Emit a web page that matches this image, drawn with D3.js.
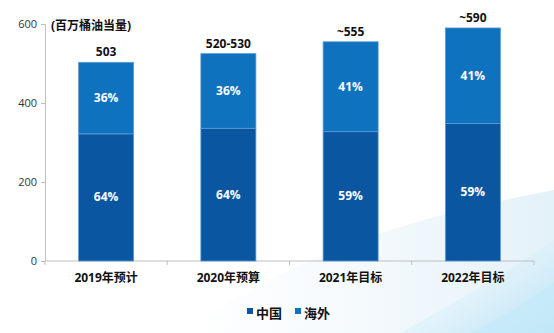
<!DOCTYPE html>
<html>
<head>
<meta charset="utf-8">
<script src="https://cdn.jsdelivr.net/npm/d3@7/dist/d3.min.js"></script>
<style>
  html, body { margin: 0; padding: 0; background: #fff; }
  svg { display: block; }
  text { font-family: "Open Sans", "Noto Sans CJK SC", sans-serif; }
</style>
</head>
<body>
<svg id="chart" width="554" height="333"></svg>
<script>
// Production by region, million barrels of oil equivalent
const categories = ["2019年预计", "2020年预算", "2021年目标", "2022年目标"];
const totals = [503, 525, 555, 590];
const totalLabels = ["503", "520-530", "~555", "~590"];
const chinaShare = [64, 64, 59, 59];
const overseasShare = [36, 36, 41, 41];
const yTicks = [0, 200, 400, 600];
const seriesNames = ["中国", "海外"];
const unitLabel = "(百万桶油当量)";

const colors = { china: "#0B56A0", overseas: "#0E72BF" };

const svg = d3.select("#chart");
const W = 554, H = 333;
const m = { left: 45, right: 20, top: 24, bottom: 72 };

// soft background swoosh in the lower right
const defs = svg.append("defs");
const g1 = defs.append("linearGradient").attr("id", "sw1")
  .attr("x1", "0").attr("y1", "0").attr("x2", "1").attr("y2", "1");
g1.append("stop").attr("offset", "0").attr("stop-color", "#ffffff").attr("stop-opacity", 0);
g1.append("stop").attr("offset", "1").attr("stop-color", "#aee0f5").attr("stop-opacity", 0.9);
const g2 = defs.append("linearGradient").attr("id", "sw2")
  .attr("x1", "0").attr("y1", "0").attr("x2", "1").attr("y2", "0");
g2.append("stop").attr("offset", "0").attr("stop-color", "#eef6fb").attr("stop-opacity", 0);
g2.append("stop").attr("offset", "1").attr("stop-color", "#e3f1f9").attr("stop-opacity", 1);

svg.append("rect").attr("width", W).attr("height", H).attr("fill", "#fff");
svg.append("path")
  .attr("d", "M180,333 C300,250 420,215 554,190 L554,333 Z")
  .attr("fill", "url(#sw2)");
svg.append("path")
  .attr("d", "M400,333 C460,300 510,270 554,240 L554,333 Z")
  .attr("fill", "url(#sw1)");
svg.append("path")
  .attr("d", "M470,333 C500,318 530,300 554,282 L554,333 Z")
  .attr("fill", "#c6e9f8").attr("opacity", 0.7);

const x = d3.scaleBand().domain(categories)
  .range([m.left, W - m.right]).paddingInner(0.55).paddingOuter(0.275);
const y = d3.scaleLinear().domain([0, 600]).range([H - m.bottom, m.top]);

// y axis
const yAxis = svg.append("g").attr("transform", `translate(${m.left},0)`)
  .call(d3.axisLeft(y).tickValues(yTicks).tickSize(4).tickPadding(4));
yAxis.select(".domain").attr("stroke", "#bfbfbf");
yAxis.selectAll(".tick line").attr("stroke", "#bfbfbf");
yAxis.selectAll(".tick text").attr("fill", "#333").style("font-size", "11px");

// x axis with ticks at category boundaries
const xb = d3.scaleLinear().domain([0, categories.length]).range([m.left, W - m.right]);
const xAxis = svg.append("g").attr("transform", `translate(0,${y(0)})`);
xAxis.append("line").attr("x1", m.left).attr("x2", W - m.right)
  .attr("stroke", "#bfbfbf");
xAxis.selectAll("line.tk").data(d3.range(categories.length + 1)).join("line")
  .attr("class", "tk").attr("x1", d => xb(d)).attr("x2", d => xb(d))
  .attr("y1", 0).attr("y2", 4).attr("stroke", "#bfbfbf");
xAxis.selectAll("text").data(categories).join("text")
  .attr("x", d => x(d) + x.bandwidth() / 2).attr("y", 21)
  .attr("text-anchor", "middle").attr("fill", "#111")
  .style("font-size", "12px").style("font-weight", "bold").text(d => d);

// stacked bars
const rows = categories.map((c, i) => {
  const china = totals[i] * chinaShare[i] / 100;
  return { c, i, china, total: totals[i] };
});
const bars = svg.append("g");
bars.selectAll("rect.china").data(rows).join("rect").attr("class", "china")
  .attr("x", d => x(d.c)).attr("width", x.bandwidth())
  .attr("y", d => y(d.china)).attr("height", d => y(0) - y(d.china))
  .attr("fill", colors.china).attr("stroke", "#5C9BD5").attr("stroke-width", 0.8);
bars.selectAll("rect.overseas").data(rows).join("rect").attr("class", "overseas")
  .attr("x", d => x(d.c)).attr("width", x.bandwidth())
  .attr("y", d => y(d.total)).attr("height", d => y(d.china) - y(d.total))
  .attr("fill", colors.overseas).attr("stroke", "#5C9BD5").attr("stroke-width", 0.8);

// segment percentages
const lbl = svg.append("g").attr("text-anchor", "middle").attr("fill", "#fff")
  .style("font-size", "12px").style("font-weight", "bold");
lbl.selectAll("text.c").data(rows).join("text").attr("class", "c")
  .attr("x", d => x(d.c) + x.bandwidth() / 2)
  .attr("y", d => (y(0) + y(d.china)) / 2 + 4)
  .text(d => chinaShare[d.i] + "%");
lbl.selectAll("text.o").data(rows).join("text").attr("class", "o")
  .attr("x", d => x(d.c) + x.bandwidth() / 2)
  .attr("y", d => (y(d.china) + y(d.total)) / 2 + 4)
  .text(d => overseasShare[d.i] + "%");

// totals above bars
svg.append("g").selectAll("text").data(rows).join("text")
  .attr("x", d => x(d.c) + x.bandwidth() / 2).attr("y", d => y(d.total) - 6)
  .attr("text-anchor", "middle").attr("fill", "#111")
  .style("font-size", "12px").style("font-weight", "bold")
  .text(d => totalLabels[d.i]);

// unit label
svg.append("text").attr("x", 51).attr("y", 30).attr("fill", "#111")
  .style("font-size", "12px").style("font-weight", "bold").text(unitLabel);

// legend
const leg = svg.append("g").attr("transform", "translate(247,313)");
const legColors = [colors.china, colors.overseas];
const legX = [0, 48];
seriesNames.forEach((n, i) => {
  leg.append("rect").attr("x", legX[i]).attr("y", -5).attr("width", 6).attr("height", 6)
    .attr("fill", legColors[i]);
  leg.append("text").attr("x", legX[i] + 9).attr("y", 5).attr("fill", "#111")
    .style("font-size", "13px").style("font-weight", "bold").text(n);
});
</script>
</body>
</html>
